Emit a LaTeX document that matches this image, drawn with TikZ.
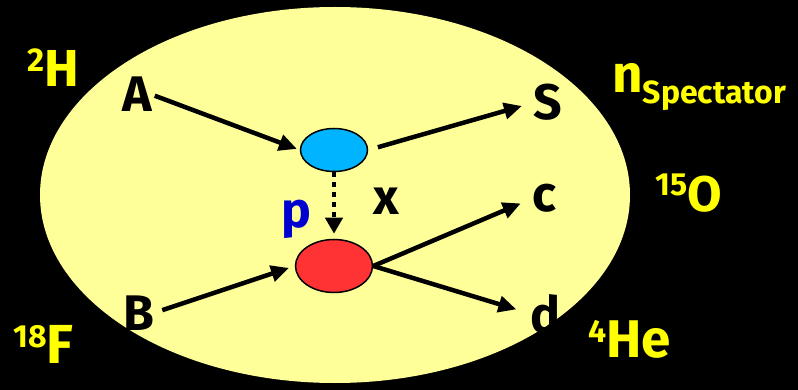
\documentclass[tikz,border=0pt]{standalone}
\usepackage{fontspec}
\setmainfont{Fira Sans}
\usetikzlibrary{arrows.meta,shapes.geometric}
\definecolor{paleyellow}{HTML}{FFFF99}
\definecolor{labyellow}{HTML}{FFFF00}
\definecolor{bluebub}{HTML}{00B4FF}
\definecolor{redbub}{HTML}{FF3333}
\definecolor{pblue}{HTML}{0000D0}
\begin{document}
\begin{tikzpicture}[x=1pt,y=-1pt,
  blab/.style={text=black, inner sep=0pt, anchor=base, font=\fontsize{50}{50}\selectfont\bfseries},
  ylab/.style={text=labyellow, inner sep=0pt, anchor=base west, font=\bfseries},
  bub/.style={draw=black, line width=1.5pt, ellipse, inner sep=0pt},
  arr/.style={line width=4.5pt, -{Triangle[length=18pt,width=16pt]}},
  darr/.style={line width=4.5pt, dash pattern=on 5pt off 5pt, -{Triangle[length=16pt,width=17pt]}}]
\useasboundingbox (0,0) rectangle (798,390);
\fill[black] (0,0) rectangle (798,390);
\fill[paleyellow] (335,195) ellipse [x radius=295, y radius=188];
% bubbles
\node[bub, fill=bluebub, minimum width=67pt, minimum height=43pt] (blue) at (334,150) {};
\node[bub, fill=redbub, minimum width=77pt, minimum height=53pt] (red) at (334,266) {};
% black labels
\node[blab] (A) at (137,112) {A};
\node[blab] (B) at (139,330) {B};
\node[blab] (S) at (548,120) {S};
\node[blab] (c) at (544,212) {c};
\node[blab] (d) at (545,332) {d};
\node[blab] (x) at (386,215) {x};
\node[blab, text=pblue] (p) at (296,228) {p};
% yellow labels
\node[ylab] (h2) at (27,87) {\raisebox{15pt}{\fontsize{33}{33}\selectfont 2}\fontsize{52}{52}\selectfont H};
\node[ylab] (nsp) at (612,93) {\fontsize{53}{53}\selectfont n\raisebox{-11pt}{\fontsize{32}{32}\selectfont Spectator}};
\node[ylab] (o15) at (655,212) {\raisebox{17pt}{\fontsize{32}{32}\selectfont 15}\fontsize{50}{50}\selectfont O};
\node[ylab] (he4) at (588,357) {\raisebox{15pt}{\fontsize{32}{32}\selectfont 4}\fontsize{53}{53}\selectfont He};
\node[ylab] (f18) at (13,363) {\raisebox{16pt}{\fontsize{32}{32}\selectfont 18}\fontsize{55}{55}\selectfont F};
% arrows
\draw[arr, shorten <=3pt, shorten >=3pt] (A.east) -- (blue.west);
\draw[arr, shorten <=10pt, shorten >=12pt] (blue.east) -- (S.west);
\draw[darr, shorten >=5pt] (blue.south) -- (red.north);
\draw[arr, shorten <=8pt, shorten >=6pt] (B.east) -- (red.west);
\draw[arr, shorten >=12pt] (red.east) -- (c.west);
\draw[arr, shorten >=14pt] (red.east) -- (d.west);
\end{tikzpicture}
\end{document}
